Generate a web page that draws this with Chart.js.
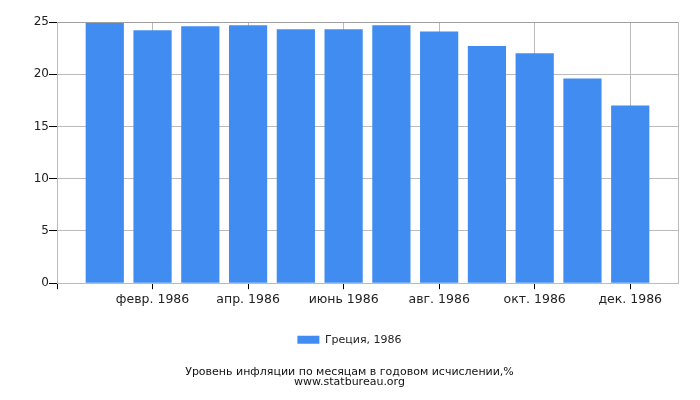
<!DOCTYPE html>
<html>
<head>
<meta charset="utf-8">
<script src="https://cdn.jsdelivr.net/npm/chart.js@4/dist/chart.umd.min.js"></script>
<style>
  html, body { margin: 0; padding: 0; background: #fff; }
  #wrap { width: 700px; height: 400px; }
</style>
</head>
<body>
<div id="wrap"><canvas id="chart" width="700" height="400"></canvas></div>
<script>
// месяцы 1986 года и инфляция (%)
const months = ['янв. 1986', 'февр. 1986', 'март 1986', 'апр. 1986', 'май 1986', 'июнь 1986',
  'июль 1986', 'авг. 1986', 'сент. 1986', 'окт. 1986', 'нояб. 1986', 'дек. 1986'];
const values = [24.9, 24.2, 24.6, 24.7, 24.3, 24.3, 24.7, 24.1, 22.7, 22.0, 19.6, 17.0];
const seriesName = 'Греция, 1986';
const xTicks = [0, 2, 4, 6, 8, 10, 12]; // подписи через месяц
const yTicks = [0, 5, 10, 15, 20, 25];
const titleLines = ['Уровень инфляции по месяцам в годовом исчислении,%', 'www.statbureau.org'];

const FONT = 'DejaVu Sans';
const GRID = '#bbbbbb';

const ctx = document.getElementById('chart').getContext('2d');
new Chart(ctx, {
  type: 'bar',
  data: {
    datasets: [{
      label: seriesName,
      data: values.map((v, i) => ({ x: i + 1, y: v })),
      backgroundColor: '#418cf0',
      borderWidth: 0,
      barPercentage: 0.8,
      categoryPercentage: 1.0,
    }],
  },
  options: {
    responsive: false,
    animation: false,
    // left padding + ширина оси Y = 57 (левый край области графика)
    layout: { padding: { top: 22, right: 22, left: 21, bottom: 0 } },
    scales: {
      x: {
        type: 'linear',
        offset: false,
        min: 0,
        max: 13,
        afterBuildTicks: (s) => { s.ticks = xTicks.map(v => ({ value: v })); },
        afterFit: (s) => { s.height = 41; },
        grid: {
          offset: false,
          color: GRID,
          tickColor: '#000',
          tickWidth: 1,
          tickLength: 6,
        },
        border: { color: GRID },
        ticks: {
          autoSkip: false,
          maxRotation: 0,
          padding: 3,
          color: '#222',
          font: { family: FONT, size: 12.5 },
          callback: (v) => (v >= 1 && v <= 12 ? months[v - 1] : ''),
        },
      },
      y: {
        min: 0,
        max: 25,
        afterBuildTicks: (s) => { s.ticks = yTicks.map(v => ({ value: v })); },
        afterFit: (s) => { s.width = 36; },
        grid: {
          color: (c) => (c.tick && c.tick.value === 25 ? '#a0a0a0' : GRID),
          tickColor: '#000',
          tickLength: 8,
        },
        border: { color: GRID },
        ticks: {
          padding: 0,
          color: '#222',
          font: { family: FONT, size: 12 },
        },
      },
      // правая рамка
      y2: {
        position: 'right',
        min: 0,
        max: 25,
        afterFit: (s) => { s.width = 0; },
        grid: { drawOnChartArea: false, drawTicks: false },
        border: { color: GRID },
        ticks: { display: false },
      },
    },
    plugins: {
      legend: {
        position: 'bottom',
        labels: {
          boxWidth: 22,
          boxHeight: 8,
          padding: 10,
          color: '#222',
          font: { family: FONT, size: 11 },
        },
      },
      title: {
        display: true,
        position: 'bottom',
        text: titleLines,
        color: '#111',
        font: { family: FONT, size: 11, weight: 'normal', lineHeight: 0.9 },
        padding: { top: 12, bottom: 13 },
      },
      tooltip: { enabled: false },
    },
  },
});
</script>
</body>
</html>
